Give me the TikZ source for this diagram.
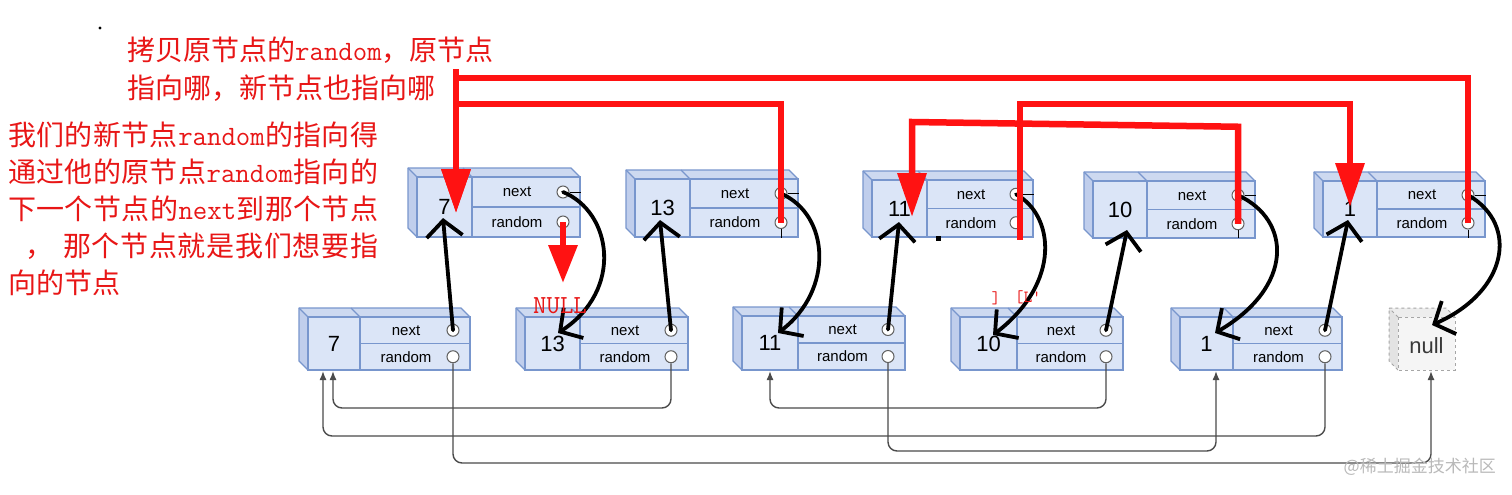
\documentclass[tikz,border=0pt]{standalone}
\usepackage{fontspec}
\setmainfont{Liberation Sans}
\newfontfamily\cjk{Noto Sans CJK SC}
\usetikzlibrary{arrows.meta,calc}
\definecolor{llfront}{RGB}{219,229,247}
\definecolor{lltop}{RGB}{205,217,240}
\definecolor{llside}{RGB}{192,206,236}
\definecolor{llline}{RGB}{120,150,205}
\definecolor{redl}{RGB}{255,18,18}
\definecolor{textred}{RGB}{232,22,22}
\definecolor{gline}{RGB}{75,75,75}
\newcommand\jf{\hfill}
\tikzset{
  llln/.style={draw=llline, line width=1.3},
  valtxt/.style={font=\fontsize{22}{24}\selectfont, inner sep=0},
  fldtxt/.style={font=\fontsize{15}{17}\selectfont, inner sep=0},
  ptr/.style={circle, draw=gray!75!black, fill=white, line width=1, minimum size=12pt, inner sep=0},
  redarr/.style={draw=redl, line width=6.5, -{Triangle[length=44pt,width=28pt]}},
  blkarr/.style={draw=black, line width=3.8, line cap=round, -{Straight Barb[length=16pt,width=36pt]}},
  garr/.style={draw=gline, line width=1.4, rounded corners=9pt, -{Latex[length=9pt,width=7pt]}},
  rtext/.style={text=textred, font=\cjk\fontsize{28}{34}\selectfont, inner sep=0, anchor=west},
  tick/.style={draw=black, line width=1},
}
% #1 name, #2 x, #3 y (front top-left), #4 width, #5 height, #6 value width, #7 value
\newcommand\LLnode[7]{%
  \fill[llside] (#2,#3) -- ++(-9,-9) -- ++(0,#5) -- ++(9,9) -- cycle;
  \fill[lltop] (#2,#3) -- ++(-9,-9) -- ++(#4,0) -- ++(9,9) -- cycle;
  \draw[llln, line join=round] (#2,#3+#5) -- ++(-9,-9) -- ++(0,-#5) -- ++(#4,0) -- ++(9,9);
  \draw[llln] (#2,#3) -- ++(-9,-9);
  \draw[llln] (#2+#6,#3) -- ++(-9,-9);
  \draw[llln, fill=llfront] (#2,#3) rectangle ++(#4,#5);
  \draw[llln] (#2+#6,#3) -- ++(0,#5);
  \draw[llln] (#2+#6,#3+#5/2) -- (#2+#4,#3+#5/2);
  \node[valtxt] (#1) at (#2+#6/2,#3+#5/2) {#7};
  \node[fldtxt] (#1nt) at ({#2+#6+(#4-#6)/2-9},{#3+#5/4}) {next};
  \node[fldtxt] (#1rt) at ({#2+#6+(#4-#6)/2-9},{#3+3*#5/4}) {random};
  \node[ptr] (#1n) at ({#2+#4-17},{#3+#5/4}) {};
  \node[ptr] (#1r) at ({#2+#4-17},{#3+3*#5/4}) {};
}
\begin{document}
\begin{tikzpicture}[x=1pt,y=-1pt]
\useasboundingbox (0,0) rectangle (1512,495);
\fill[white] (0,0) rectangle (1512,495);

% ---------- copy list (top) ----------
\LLnode{T7}{417}{177}{163}{60}{55}{7}
\LLnode{T13}{635}{179}{163}{58}{55}{13}
\LLnode{T11}{872}{180}{161}{57}{55}{11}
\LLnode{T10}{1093}{181}{162}{57}{54}{10}
\LLnode{T1}{1323}{181}{162}{56}{54}{1}

% ---------- original list (bottom) ----------
\LLnode{B7}{308}{317}{162}{53}{52}{7}
\LLnode{B13}{525}{317}{163}{53}{55}{13}
\LLnode{B11}{742}{316}{163}{54}{56}{11}
\LLnode{B10}{960}{317}{163}{53}{57}{10}
\LLnode{B1}{1180}{317}{162}{53}{53}{1}

% null box
\fill[gray!22] (1398,317) -- ++(-9,-9) -- ++(0,53) -- ++(9,9) -- cycle;
\fill[gray!14] (1398,317) -- ++(-9,-9) -- ++(57,0) -- ++(9,9) -- cycle;
\draw[gray!70, dashed, line width=1] (1398,370) -- ++(-9,-9) -- ++(0,-53) -- ++(57,0) -- ++(9,9);
\draw[gray!70, dashed, line width=1] (1398,317) -- ++(-9,-9);
\draw[gray!70, dashed, line width=1, fill=gray!8] (1398,317) rectangle ++(57,53);
\node[font=\fontsize{22}{24}\selectfont, text=gray!45!black, inner sep=0] (NL) at (1426.5,346) {null};

% small artifact ticks
\draw[tick] (T7n.east) -- ++(11,0);
\draw[tick] (T13n.east) -- ++(11,0);
\draw[tick] (T11n.east) -- ++(11,0);
\draw[tick] (T10n.east) -- ++(11,0);
\draw[tick] (T1n.east) -- ++(11,0);
\draw[tick] (T13r.south) -- ++(0,9);
\draw[tick] (T10r.south) -- ++(0,8);
\draw[tick] (T1r.south) -- ++(0,8);
\fill (936,236) rectangle ++(5,5);
\fill (100,28) circle (1.6);

% ---------- original random pointers (gray) ----------
\coordinate (ga) at (0,408);
\coordinate (gb) at (0,436);
\coordinate (gc) at (0,451);
\coordinate (gd) at (0,463);
\coordinate (t7a) at ($(B7)+(-1,27.5)$);
\coordinate (t7b) at ($(B7)+(-11,27.5)$);
\coordinate (t11) at ($(B11)+(0,28)$);
\coordinate (t1) at ($(B1)+(9.5,27.5)$);
\coordinate (tnull) at ($(NL)+(4.5,25)$);
\draw[garr] (B13r.south) -- (B13r |- ga) -- (t7a |- ga) -- (t7a);
\draw[garr] (B1r.south) -- (B1r |- gb) -- (t7b |- gb) -- (t7b);
\draw[garr] (B10r.south) -- (B10r |- ga) -- (t11 |- ga) -- (t11);
\draw[garr] (B11r.south) -- (B11r |- gc) -- (t1 |- gc) -- (t1);
\draw[garr] (B7r.south) -- (B7r |- gd) -- (tnull |- gd) -- (tnull);

% ---------- black hand-drawn arrows ----------
\draw[blkarr] (B7n.center) -- ($(T7)+(-1.5,11)$);
\draw[blkarr] (B13n.center) -- ($(T13)+(-2.5,12)$);
\draw[blkarr] (B11n.center) -- ($(T11)+(-0.5,13.5)$);
\draw[blkarr] (B10n.center) -- ($(T10)+(7,20.5)$);
\draw[blkarr] (B1n.center) -- ($(T1)+(-2,11)$);

\draw[blkarr] (T7n.center) .. controls (612,212) and (624,290) .. ($(B13)+(5.5,-10.5)$);
\draw[blkarr] (T13n.center) .. controls (830,215) and (834,290) .. ($(B11)+(8,-10)$);
\draw[blkarr] (T11n.center) .. controls (1054,215) and (1062,282) .. ($(B10)+(4.5,-8.5)$);
\draw[blkarr] (T10n.center) .. controls (1292,220) and (1294,287) .. ($(B1)+(8.5,-10.5)$);
\draw[blkarr] (T1n.center) .. controls (1520,225) and (1507,292) .. ($(NL)+(5.5,-21)$);

% ---------- red arrows ----------
\coordinate (r7tip) at ($(T7)+(11.5,6)$);
\coordinate (r1tip) at ($(T1)+(0,-2)$);
\coordinate (r11tip) at ($(T11)+(12.5,8.5)$);
\draw[redarr] (T13r.center) -- ++(0,-118.5) -| (r7tip);
\draw[redarr] (T1r.center) -- ++(0,-145) -| (r7tip);
\draw[draw=redl, line width=6.5] (r7tip |- T1r) ++(0,-145) -- ++(0,-9);
\draw[redarr] ($(T11r.center)+(4,17)$) -- ++(0,-136) -| (r1tip);
\draw[redarr] (T10r.center) -- ++(0,-97) -- ($(r11tip)+(0,-95)$) -- (r11tip);
\draw[draw=redl, line width=6.5, -{Triangle[length=38pt,width=28pt]}] (T7r.center) -- ++(0,61);

% ---------- red texts ----------
\node[text=textred, font=\ttfamily\fontsize{26}{28}\selectfont, inner sep=0] (nulltxt) at (560,306) {NULL};
\node[text=textred, font=\ttfamily\fontsize{17}{18}\selectfont, inner sep=0] (art1) at (996,298) {]};
\node[text=textred, font=\ttfamily\fontsize{17}{18}\selectfont, inner sep=0] (art2) at (1028,297) {[L'};

\node[rtext] (H1) at (127,50) {拷贝原节点的{\ttfamily random}，原节点};
\node[rtext] (H2) at (127,88) {指向哪，新节点也指向哪};

\node[rtext] (L1) at (8,135) {\hbox to 370pt{我\jf 们\jf 的\jf 新\jf 节\jf 点\jf{\ttfamily random}\jf 的\jf 指\jf 向\jf 得}};
\node[rtext] (L2) at (8,172) {\hbox to 370pt{通\jf 过\jf 他\jf 的\jf 原\jf 节\jf 点\jf{\ttfamily random}\jf 指\jf 向\jf 的}};
\node[rtext] (L3) at (8,209) {\hbox to 370pt{下\jf 一\jf 个\jf 节\jf 点\jf 的\jf{\ttfamily next}\jf 到\jf 那\jf 个\jf 节\jf 点}};
\node[rtext] (L4) at (8,246) {\hbox to 370pt{\hskip17pt ，\hskip10pt 那\jf 个\jf 节\jf 点\jf 就\jf 是\jf 我\jf 们\jf 想\jf 要\jf 指}};
\node[rtext] (L5) at (8,283) {向的节点};

% watermark
\node[font=\cjk\fontsize{17}{19}\selectfont, text=gray!55, inner sep=0, anchor=east] (wm) at (1496,467) {@稀土掘金技术社区};
\end{tikzpicture}
\end{document}
